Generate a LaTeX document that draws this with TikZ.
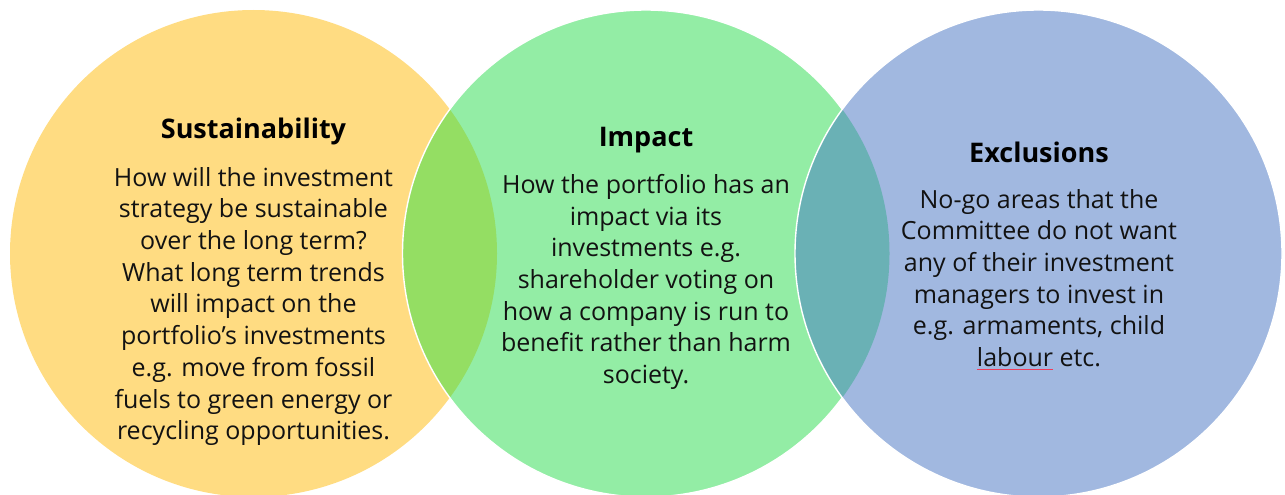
\documentclass[tikz,border=0pt]{standalone}
\usepackage{fontspec}
\setmainfont{Open Sans}
\definecolor{cSpell}{HTML}{F03C5A}
% word with a thin red spelling underline
\newcommand{\spellmark}[1]{{\setbox0\hbox{#1}\rlap{\color{cSpell}\raisebox{-3pt}{\rule{\wd0}{0.8pt}}}\box0}}
\begin{document}
\begin{tikzpicture}[x=1pt,y=-1pt,
  title/.style={font=\fontsize{27}{32}\selectfont\bfseries, text=black, anchor=base},
  body/.style={font=\fontsize{25}{31.7}\selectfont, text=black!93, align=center, anchor=north, inner sep=0pt},
  ring/.style={draw=white, line width=1.4pt}]
\definecolor{cYellow}{HTML}{FFDC82}
\definecolor{cGreen}{HTML}{93EDA5}
\definecolor{cBlue}{HTML}{A1B8E0}
\definecolor{cYG}{HTML}{94DE63}
\definecolor{cGB}{HTML}{6AB1B5}
\useasboundingbox (0,0) rectangle (1285,495);
\def\R{243.5}
\coordinate (cy) at (253.5,253.5);
\coordinate (cg) at (646,253.5);
\coordinate (cb) at (1038.5,253.5);

% yellow and green circles with their overlap
\fill[cYellow] (cy) circle (\R);
\fill[cGreen] (cg) circle (\R);
\begin{scope}
  \clip (cy) circle (\R);
  \fill[cYG] (cg) circle (\R);
\end{scope}
\draw[ring] (cg) circle (\R);

% blue circle with its overlap
\fill[cBlue] (cb) circle (\R);
\begin{scope}
  \clip (cg) circle (\R);
  \fill[cGB] (cb) circle (\R);
\end{scope}
\draw[ring] (cb) circle (\R);

% texts
\node[title] (t1) at (253.5,138) {Sustainability};
\node[body] (b1) at (253.5,167) {How will the investment\\strategy be sustainable\\over the long term?\\What long term trends\\will impact on the\\portfolio’s investments\\e.g. move from fossil\\fuels to green energy or\\recycling opportunities.};

\node[title] (t2) at (646,146) {Impact};
\node[body] (b2) at (646,174) {How the portfolio has an\\impact via its\\investments e.g.\\shareholder voting on\\how a company is run to\\benefit rather than harm\\society.};

\node[title] (t3) at (1039,162) {Exclusions};
\node[body] (b3) at (1039,189) {No-go areas that the\\Committee do not want\\any of their investment\\managers to invest in\\e.g. armaments, child\\\spellmark{labour} etc.};
\end{tikzpicture}
\end{document}
